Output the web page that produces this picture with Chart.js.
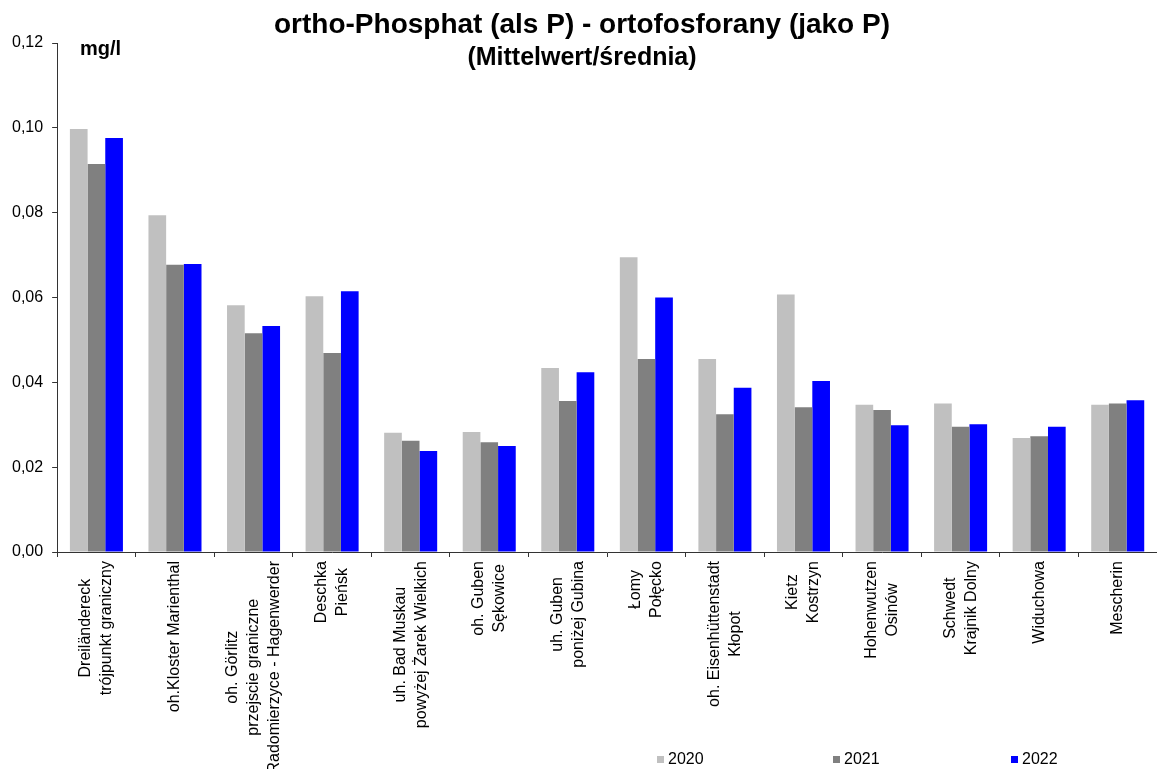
<!DOCTYPE html>
<html>
<head>
<meta charset="utf-8">
<script src="https://cdn.jsdelivr.net/npm/chart.js@4.4.0/dist/chart.umd.min.js"></script>
<style>
  html, body { margin: 0; padding: 0; background: #fff; }
  #wrap { width: 1157px; height: 769px; position: relative; }
</style>
</head>
<body>
<div id="wrap"><canvas id="chart"></canvas></div>
<script>
// measuring stations (two names: German / Polish)
const stations = [
  ['Dreiländereck', 'trójpunkt graniczny'],
  ['oh.Kloster Marienthal'],
  ['oh. Görlitz', 'przejscie graniczne', 'Radomierzyce - Hagenwerder'],
  ['Deschka', 'Pieńsk'],
  ['uh. Bad Muskau', 'powyżej Żarek Wielkich'],
  ['oh. Guben', 'Sękowice'],
  ['uh. Guben', 'poniżej Gubina'],
  ['Łomy', 'Połęcko'],
  ['oh. Eisenhüttenstadt', 'Kłopot'],
  ['Kietz', 'Kostrzyn'],
  ['Hohenwutzen', 'Osinów'],
  ['Schwedt', 'Krajnik Dolny'],
  ['Widuchowa'],
  ['Mescherin']
];

const years = ['2020', '2021', '2022'];

// mean ortho-phosphate (mg/l P)
const values2020 = [0.0997, 0.0794, 0.0582, 0.0603, 0.0281, 0.0283, 0.0434, 0.0695, 0.0455, 0.0607, 0.0347, 0.0350, 0.0269, 0.0347];
const values2021 = [0.0915, 0.0677, 0.0516, 0.0469, 0.0262, 0.0259, 0.0356, 0.0455, 0.0325, 0.0341, 0.0335, 0.0295, 0.0273, 0.0350];
const values2022 = [0.0976, 0.0679, 0.0533, 0.0615, 0.0238, 0.0250, 0.0424, 0.0600, 0.0387, 0.0403, 0.0299, 0.0301, 0.0295, 0.0358];

const yTicks = [0, 0.02, 0.04, 0.06, 0.08, 0.10, 0.12];

const FONT = 'Liberation Sans, Arial, sans-serif';
const colors = ['#c0c0c0', '#808080', '#0000ff'];

// title, unit, rotated station names and legend are drawn by hand
const decorations = {
    id: 'decorations',
    afterDraw(chart) {
        const ctx = chart.ctx;
        const area = chart.chartArea;
        const xScale = chart.scales.x;
        ctx.save();
        ctx.fillStyle = '#000';

        // --- title ---
        ctx.textAlign = 'center';
        ctx.textBaseline = 'alphabetic';
        ctx.font = 'bold 28px ' + FONT;
        ctx.fillText('ortho-Phosphat (als P) - ortofosforany (jako P)', 582, 33);
        ctx.font = 'bold 25px ' + FONT;
        ctx.fillText('(Mittelwert/średnia)', 582, 65);

        // --- unit ---
        ctx.textAlign = 'left';
        ctx.font = 'bold 20px ' + FONT;
        ctx.fillText('mg/l', 80, 55);

        // --- station labels, rotated, lines centred on each other ---
        ctx.font = '16px ' + FONT;
        ctx.textBaseline = 'middle';
        ctx.textAlign = 'center';
        const lineH = 21;
        stations.forEach((lines, i) => {
            const cx = xScale.getPixelForValue(i);
            const maxW = Math.max(...lines.map(l => ctx.measureText(l).width));
            ctx.save();
            ctx.translate(cx, area.bottom + 9);
            ctx.rotate(-Math.PI / 2);
            lines.forEach((line, k) => {
                ctx.fillText(line, -maxW / 2, (k - (lines.length - 1) / 2) * lineH);
            });
            ctx.restore();
        });

        // --- legend ---
        const legendX = [657, 833, 1011];
        ctx.textAlign = 'left';
        ctx.font = '16px ' + FONT;
        chart.data.datasets.forEach((ds, i) => {
            ctx.fillStyle = ds.backgroundColor;
            ctx.fillRect(legendX[i], 756, 7, 7);
            ctx.fillStyle = '#000';
            ctx.fillText(ds.label, legendX[i] + 11, 760);
        });
        ctx.restore();
    }
};

const seriesValues = [values2020, values2021, values2022];

new Chart(document.getElementById('chart'), {
    type: 'bar',
    data: {
        labels: stations.map(s => s.join(' ')),
        datasets: years.map((y, i) => ({
            label: y,
            data: seriesValues[i],
            backgroundColor: colors[i],
            borderWidth: 0,
            categoryPercentage: 0.675,
            barPercentage: 1.0
        }))
    },
    options: {
        responsive: true,
        maintainAspectRatio: false,
        animation: false,
        layout: { padding: { left: 3, top: 43, right: 0, bottom: 212 } },
        plugins: {
            legend: { display: false },
            title: { display: false },
            tooltip: { enabled: false }
        },
        scales: {
            x: {
                ticks: { display: false },
                grid: { drawOnChartArea: false, drawTicks: true, tickLength: 5, color: '#333' },
                border: { color: '#333', width: 1 }
            },
            y: {
                min: 0,
                max: 0.12,
                afterBuildTicks: axis => { axis.ticks = yTicks.map(v => ({ value: v })); },
                ticks: {
                    color: '#000',
                    padding: 9,
                    font: { family: FONT, size: 16 },
                    callback: v => v.toFixed(2).replace('.', ',')
                },
                grid: { drawOnChartArea: false, drawTicks: true, tickLength: 5, color: '#333' },
                border: { color: '#333', width: 1 }
            }
        }
    },
    plugins: [decorations]
});
</script>
</body>
</html>
